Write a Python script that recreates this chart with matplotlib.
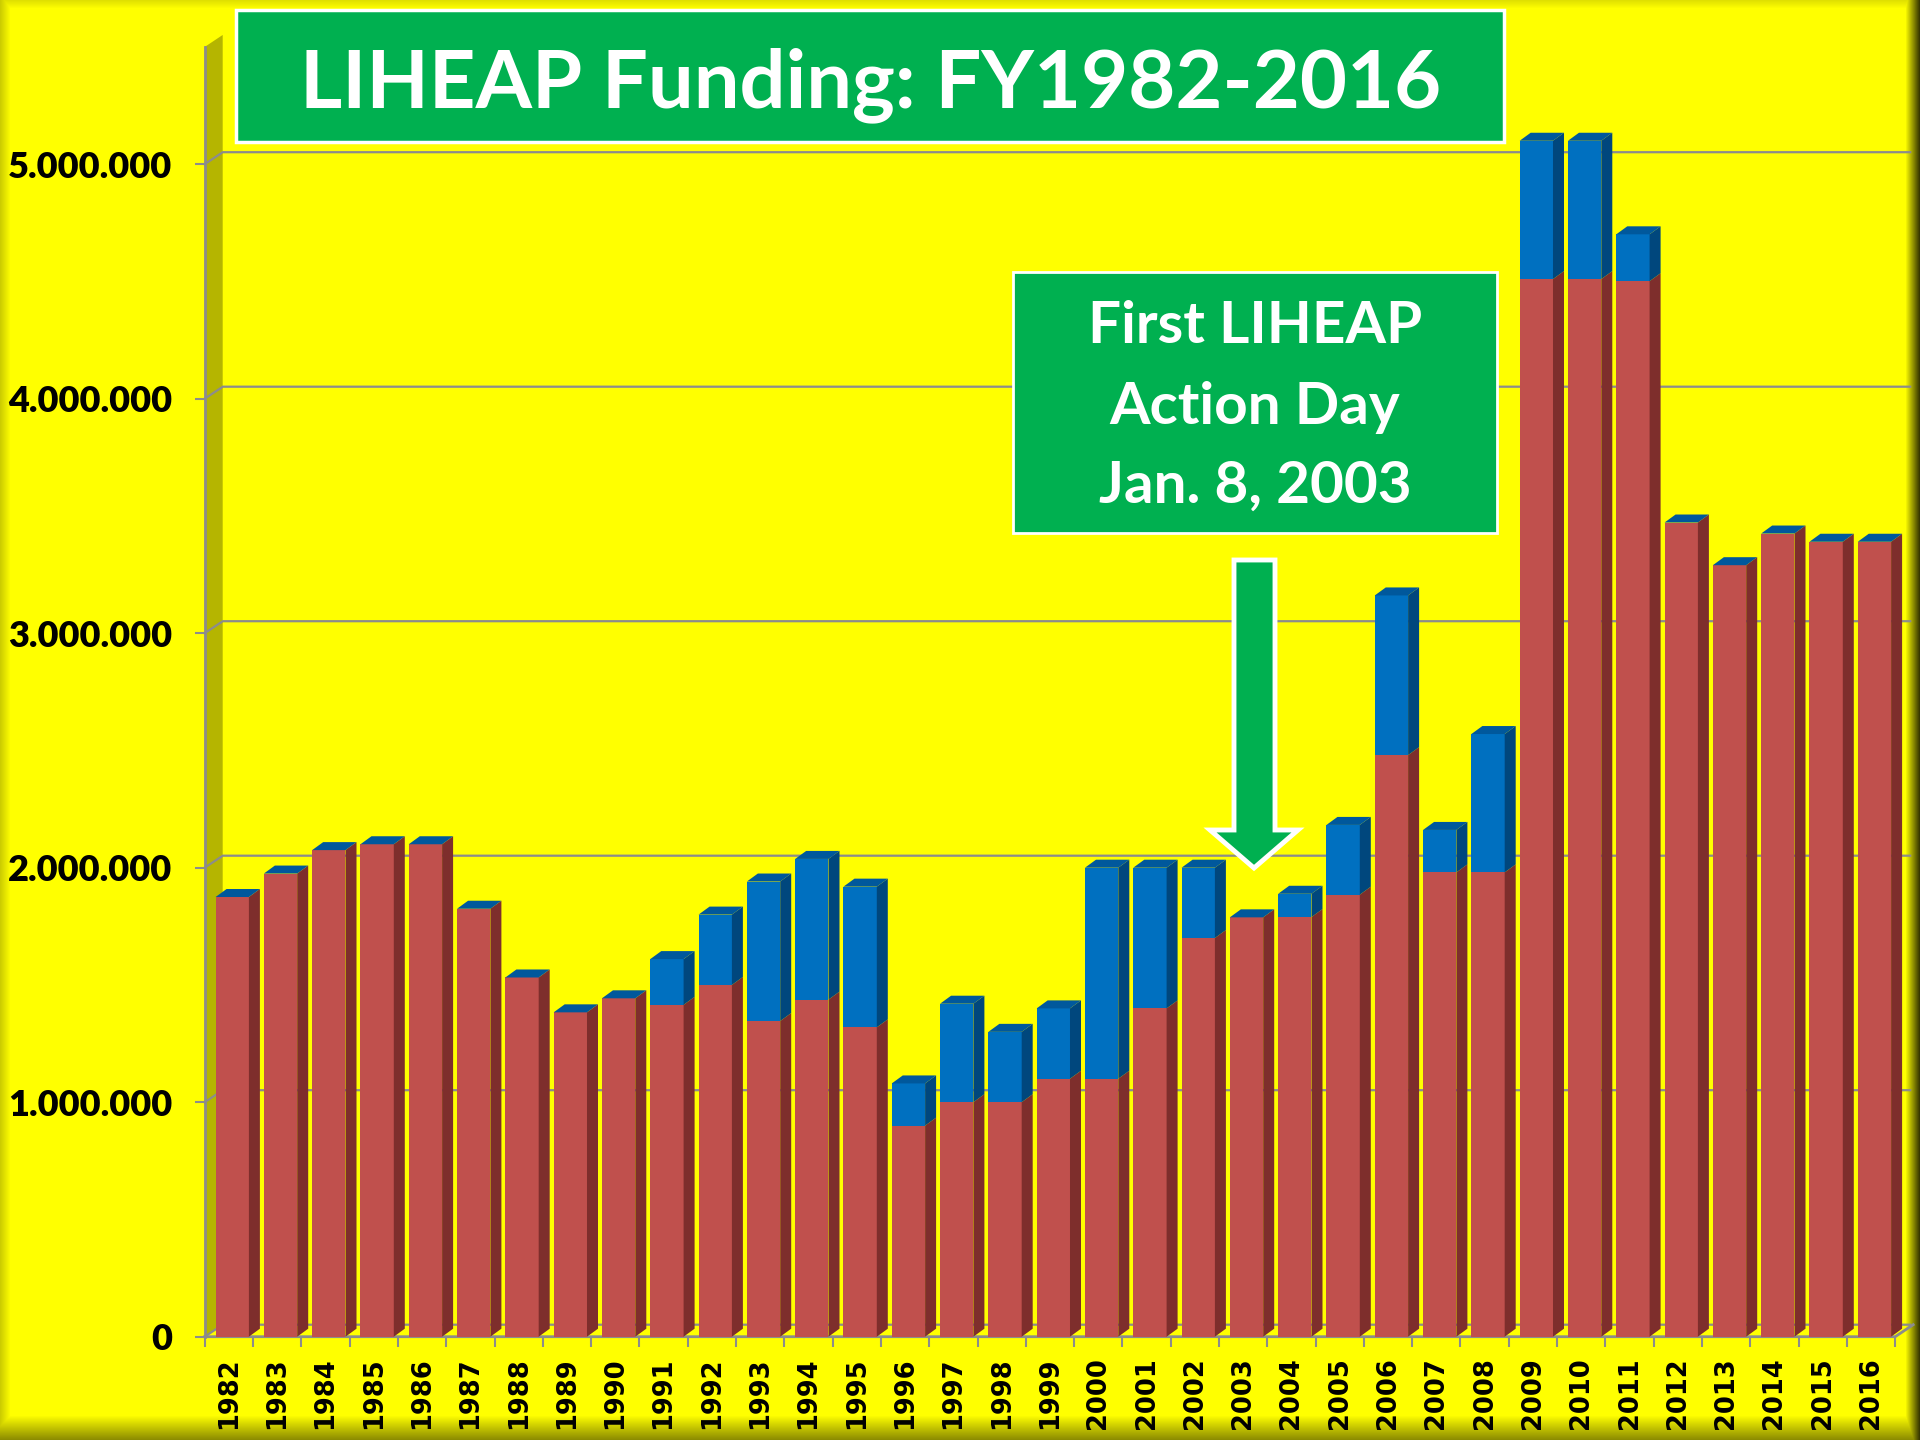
import numpy as np
import matplotlib
matplotlib.use("Agg")
import matplotlib.pyplot as plt
from matplotlib.patches import Polygon, Rectangle
from matplotlib.transforms import IdentityTransform
from matplotlib.lines import Line2D

# ---------------- data (thousands of dollars) ----------------
years = [str(y) for y in range(1982, 2017)]
regular_funds = [1875000, 1975000, 2075000, 2100000, 2100000, 1825000, 1531840,
                 1383200, 1443000, 1415055, 1500000, 1346030, 1437402, 1319204,
                 900000, 1000000, 1000000, 1100000, 1100000, 1400000, 1700000,
                 1788300, 1789380, 1884799, 2480000, 1980000, 1980000, 4510000,
                 4510000, 4501000, 3472000, 3290000, 3425000, 3390000, 3390000]
emergency_funds = [0, 0, 0, 0, 0, 0, 0, 0, 0, 195180, 300000, 595000, 600000,
                   600000, 180000, 420000, 300000, 300000, 900000, 600000,
                   300000, 0, 99410, 297600, 681000, 181000, 590000, 590000,
                   590000, 200000, 0, 0, 0, 0, 0]
y_ticks = [0, 1000000, 2000000, 3000000, 4000000, 5000000]
title = "LIHEAP Funding: FY1982-2016"
note_lines = ["First LIHEAP", "Action Day", "Jan. 8, 2003"]

# ---------------- style ----------------
YELLOW = "#FFFF00"
RED, RED_SIDE = "#C0504D", "#7E2E2C"
BLUE, BLUE_SIDE, BLUE_TOP = "#0070C0", "#00477D", "#00589C"
GREEN = "#00B050"
GRID = "#8C8C8C"
WALL = "#B5B500"
W, H = 1920, 1440
DX, DY = 11, 8          # bar depth in px
WX, WY = 18, 12         # back wall offset in px

fig = plt.figure(figsize=(19.2, 14.4), dpi=100, facecolor=YELLOW)

# bevelled yellow background
xs = np.arange(W); ys = np.arange(H)
fr = 0.22 + 0.78 * np.clip((W - 1 - xs) / 14.0, 0, 1)
fl = 0.80 + 0.20 * np.clip(xs / 10.0, 0, 1)
fb = 0.55 + 0.45 * np.clip((H - 1 - ys) / 24.0, 0, 1)
ft = 0.88 + 0.12 * np.clip(ys / 8.0, 0, 1)
fac = np.minimum(np.minimum(fb, ft)[:, None], np.minimum(fr, fl)[None, :])
img = np.dstack([fac, fac, np.zeros_like(fac)])
bg = fig.add_axes([0, 0, 1, 1], zorder=-10)
bg.imshow(img, extent=[0, 1, 0, 1], aspect="auto", interpolation="bilinear")
bg.axis("off")

# main axes
ax_left, ax_right = 204.7, 204.7 + 35 * 48.3
ax_bottom_y, ax_top_y = 1336.7, 1336.7 - 5.5 * 234.5
ax = fig.add_axes([ax_left / W, 1 - ax_bottom_y / H,
                   (ax_right - ax_left) / W, (ax_bottom_y - ax_top_y) / H])
ax.set_xlim(-0.5, len(years) - 0.5)
ax.set_ylim(0, 5500000)
ax.patch.set_visible(False)
for s in ax.spines.values():
    s.set_visible(False)

x = np.arange(len(years))
xc = x + 0.07
bw = 0.69
base = np.array(regular_funds)
em = np.array(emergency_funds)
ax.bar(xc, base, width=bw, color=RED, linewidth=0, zorder=3)
ax.bar(xc, em, bottom=base, width=bw, color=BLUE, linewidth=0, zorder=3)

T = ax.transData
ID = IdentityTransform()


def px(xv, yv):
    return T.transform((xv, yv))


# walls, floor and grid (in pixel space from the data transform)
x0, y0 = px(-0.5, 0)
x1, _ = px(len(years) - 0.5, 0)
_, ytop = px(-0.5, 5500000)
ax.add_patch(Polygon([(x0, y0), (x0 + WX, y0 + WY), (x0 + WX, ytop + WY), (x0, ytop)],
                     closed=True, fc=WALL, ec="none", transform=ID, clip_on=False, zorder=1))
for v in y_ticks:
    _, yv = px(-0.5, v)
    ax.add_line(Line2D([x0, x0 + WX, x1 + 15], [yv, yv + WY, yv + WY], color=GRID,
                       lw=1.6, transform=ID, clip_on=False, zorder=1.5))
ax.add_line(Line2D([x0, x1, x1 + WX], [y0, y0, y0 + WY], color=GRID, lw=2.0,
                   transform=ID, clip_on=False, zorder=2))
ax.add_line(Line2D([x0, x0], [y0, ytop], color=GRID, lw=2.0,
                   transform=ID, clip_on=False, zorder=2))

# 3D faces of bars
for i in range(len(years)):
    xl, yb = px(xc[i] - bw / 2, 0)
    xr, yr = px(xc[i] + bw / 2, base[i])
    _, yt = px(xc[i], base[i] + em[i])
    ax.add_patch(Polygon([(xr, yb), (xr + DX, yb + DY), (xr + DX, yr + DY), (xr, yr)],
                         fc=RED_SIDE, ec="none", transform=ID, clip_on=False, zorder=3))
    if em[i] > 0:
        ax.add_patch(Polygon([(xr, yr), (xr + DX, yr + DY), (xr + DX, yt + DY), (xr, yt)],
                             fc=BLUE_SIDE, ec="none", transform=ID, clip_on=False, zorder=3))
    ax.add_patch(Polygon([(xl, yt), (xr, yt), (xr + DX, yt + DY), (xl + DX, yt + DY)],
                         fc=BLUE_TOP, ec="none", transform=ID, clip_on=False, zorder=3))

# ticks
ax.set_yticks(y_ticks)
ax.set_yticklabels([f"{v:,.0f}".replace(",", ".") for v in y_ticks],
                   fontfamily="Lato", fontweight="heavy", fontsize=26)
ax.tick_params(axis="y", length=7.5, width=1.5, color=GRID, pad=16)
ax.set_xticks(x)
ax.set_xticklabels(years, rotation=90, fontfamily="DejaVu Sans",
                   fontweight="bold", fontsize=18.5)
ax.set_xticks(np.arange(len(years) + 1) - 0.5, minor=True)
ax.tick_params(axis="x", which="major", length=0, pad=15)
ax.tick_params(axis="x", which="minor", length=7.5, width=1.5, color=GRID)

# title box
fig.add_artist(Rectangle((236 / W, 1 - 142 / H), (1504 - 236) / W, (142 - 10) / H,
                         transform=fig.transFigure, fc=GREEN, ec="white", lw=2.5, zorder=5))
fig.text(871 / W, 1 - 107 / H, title, ha="center", va="baseline", color="white",
         fontfamily="Lato", fontweight="bold", fontsize=58.5, zorder=6)

# annotation box
fig.add_artist(Rectangle((1013 / W, 1 - 533 / H), (1497 - 1013) / W, (533 - 272) / H,
                         transform=fig.transFigure, fc=GREEN, ec="white", lw=2, zorder=5))
for line, yb in zip(note_lines, [343, 424, 503]):
    fig.text(1255 / W, 1 - yb / H, line, ha="center", va="baseline", color="white",
             fontfamily="Lato", fontweight="bold", fontsize=42, zorder=6)

# arrow
arrow = [(1234, 560), (1275, 560), (1275, 830), (1298, 830), (1254, 868),
         (1210, 830), (1234, 830)]
fig.add_artist(Polygon([(a / W, 1 - b / H) for a, b in arrow], closed=True,
                       transform=fig.transFigure, fc=GREEN, ec="white", lw=3.5,
                       joinstyle="miter", zorder=6))

fig.savefig("out.png", dpi=100, facecolor=YELLOW)
